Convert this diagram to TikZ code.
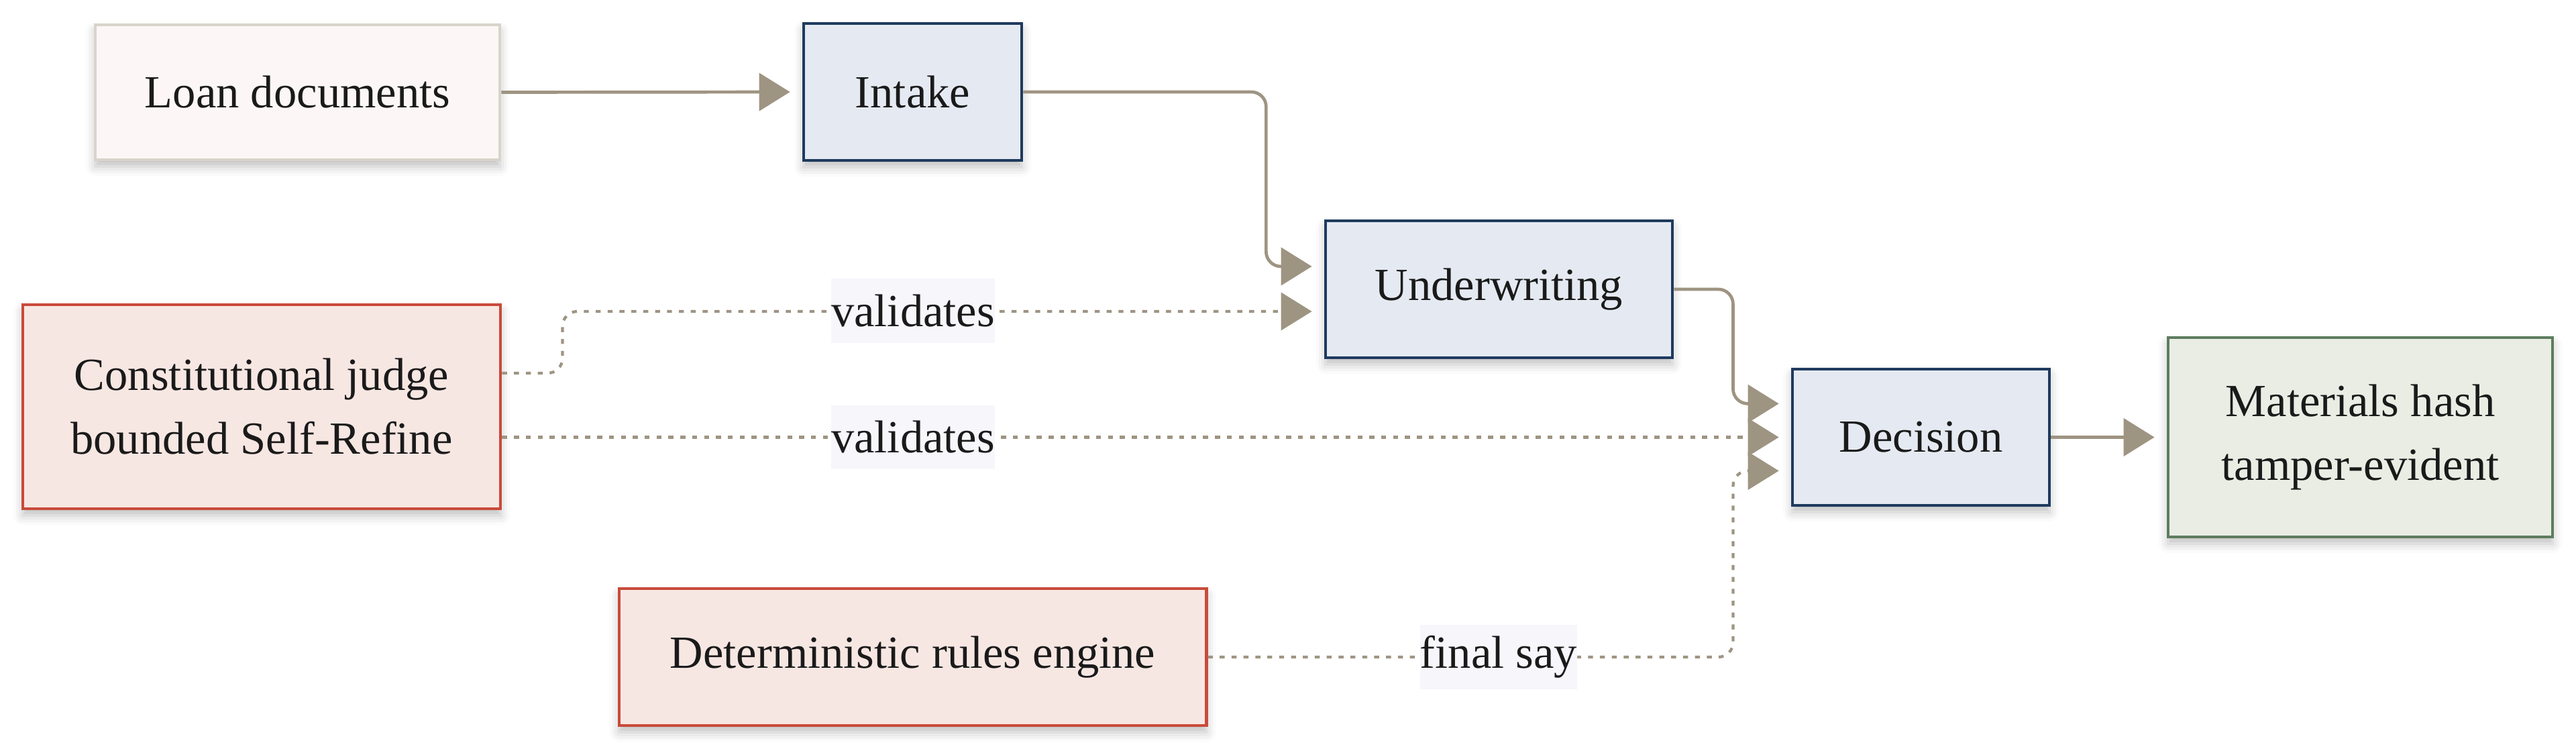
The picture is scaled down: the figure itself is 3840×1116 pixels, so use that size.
\documentclass[tikz,border=0pt]{standalone}
\usepackage{fontspec}
\setmainfont{Liberation Serif}
\usetikzlibrary{arrows.meta,shadows.blur}
\definecolor{conn}{HTML}{9E9482}
\definecolor{navy}{HTML}{1F3A5F}
\definecolor{bluefill}{HTML}{E5EAF2}
\definecolor{redb}{HTML}{C94A3A}
\definecolor{redfill}{HTML}{F7E7E3}
\definecolor{greyb}{HTML}{D9D4CB}
\definecolor{pinkfill}{HTML}{FCF7F6}
\definecolor{greenb}{HTML}{5E7D5E}
\definecolor{greenfill}{HTML}{E9EDE4}
\definecolor{lblfill}{HTML}{F6F6FB}
\definecolor{ink}{HTML}{1A1A1A}
\tikzset{
  box/.style={draw, line width=0.045cm, align=center, inner sep=0pt, text=ink,
    font=\fontsize{19.5pt}{27pt}\selectfont,
    blur shadow={shadow xshift=0cm, shadow yshift=-0.1cm, shadow blur radius=0.14cm, shadow opacity=25}},
  srcbox/.style={box, draw=greyb, fill=pinkfill},
  procbox/.style={box, draw=navy, fill=bluefill},
  judgebox/.style={box, draw=redb, fill=redfill},
  outbox/.style={box, draw=greenb, fill=greenfill},
  flow/.style={draw=conn, line width=0.047cm, rounded corners=0.22cm,
    -{Triangle[length=0.46cm,width=0.56cm]}, shorten >=0.18cm},
  dotflow/.style={flow, line width=0.042cm, dash pattern=on 0.074cm off 0.103cm},
  lbl/.style={fill=lblfill, inner xsep=0pt, inner ysep=0pt, minimum height=0.95cm,
    text=ink, font=\fontsize{19.5pt}{27pt}\selectfont},
}
\begin{document}
\begin{tikzpicture}[x=0.01cm,y=-0.01cm]
\useasboundingbox (0,0) rectangle (3840,1116);
\node[srcbox, minimum width=6.03cm, minimum height=2.01cm] (loan) at (443.5,137.5) {Loan documents};
\node[procbox, minimum width=3.25cm, minimum height=2.04cm] (intake) at (1360.5,137) {Intake};
\node[procbox, minimum width=5.17cm, minimum height=2.04cm] (under) at (2234.5,431) {Underwriting};
\node[procbox, minimum width=3.83cm, minimum height=2.03cm] (decision) at (2863.5,651.5) {Decision};
\node[outbox, minimum width=5.73cm, minimum height=2.97cm] (mat) at (3518.5,651.5) {Materials hash\\tamper-evident};
\node[judgebox, minimum width=7.12cm, minimum height=3.04cm] (judge) at (390,606) {Constitutional judge\\bounded Self-Refine};
\node[judgebox, minimum width=8.75cm, minimum height=2.04cm] (det) at (1360.5,979) {Deterministic rules engine};

\draw[flow] (loan.east) -- (intake.west);
\draw[flow] (intake.east) -- ++(362,0) |- ([yshift=0.34cm]under.west);
\draw[flow] (under.east) -- ++(88,0) |- ([yshift=0.5cm]decision.west);
\draw[flow] (decision.east) -- (mat.west);

\draw[dotflow] ([yshift=0.5cm]judge.east) -- ++(90,0) |- ([yshift=-0.33cm]under.west);
\draw[dotflow] (judge.east |- decision.west) -- (decision.west);
\draw[dotflow] (det.east) -- ++(783,0) |- ([yshift=-0.5cm]decision.west);

\node[lbl] (v1) at (1361,463) {validates};
\node[lbl] (v2) at (1361,651.5) {validates};
\node[lbl] (fs) at (2234,979) {final say};
\end{tikzpicture}
\end{document}
